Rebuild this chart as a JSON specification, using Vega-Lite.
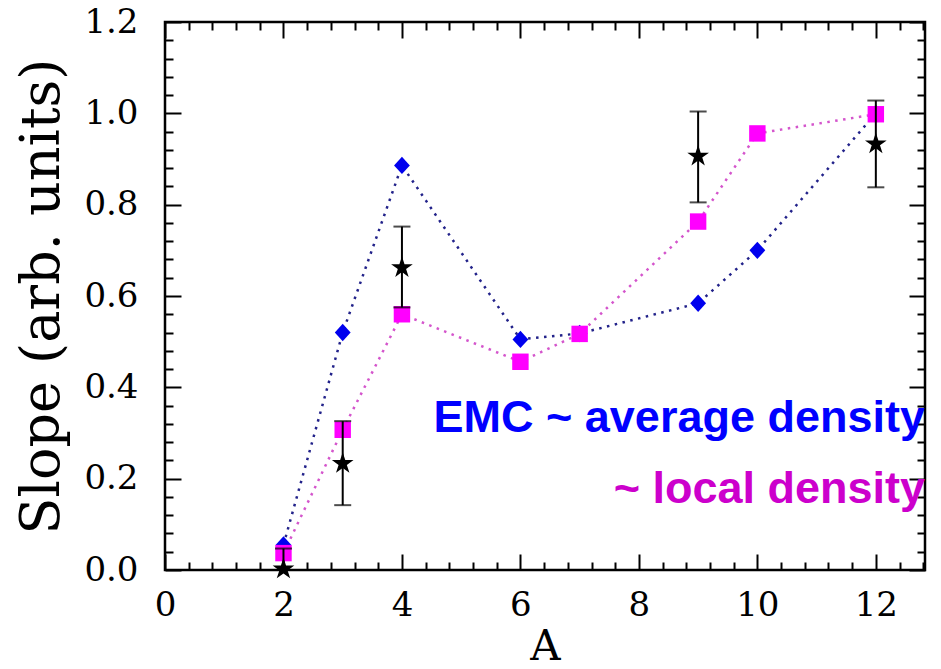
{
  "$schema": "https://vega.github.io/schema/vega-lite/v6.json",
  "width": 760,
  "height": 548,
  "autosize": {"type": "none"},
  "padding": {"left": 165, "top": 22, "right": 16, "bottom": 99},
  "background": "white",
  "config": {
    "view": {"stroke": "black", "strokeWidth": 2.5},
    "axis": {
      "grid": false,
      "domain": false,
      "labelFlush": false,
      "tickColor": "black",
      "tickWidth": 2,
      "labelColor": "black",
      "labelFont": "DejaVu Serif",
      "labelFontSize": 34,
      "titleFont": "DejaVu Serif",
      "titleFontWeight": "normal",
      "titleColor": "black"
    }
  },
  "datasets": {
    "emc": [
      {"A": 2, "slope": 0.055},
      {"A": 3, "slope": 0.52},
      {"A": 4, "slope": 0.886},
      {"A": 6, "slope": 0.505},
      {"A": 7, "slope": 0.518},
      {"A": 9, "slope": 0.584},
      {"A": 10, "slope": 0.7},
      {"A": 12, "slope": 1.0}
    ],
    "local": [
      {"A": 2, "slope": 0.037},
      {"A": 3, "slope": 0.307},
      {"A": 4, "slope": 0.56},
      {"A": 6, "slope": 0.456},
      {"A": 7, "slope": 0.517},
      {"A": 9, "slope": 0.763},
      {"A": 10, "slope": 0.956},
      {"A": 12, "slope": 0.998}
    ],
    "exp": [
      {"A": 2, "slope": 0.002, "lo": 0.0, "hi": 0.047},
      {"A": 3, "slope": 0.233, "lo": 0.142, "hi": 0.326},
      {"A": 4, "slope": 0.662, "lo": 0.575, "hi": 0.752},
      {"A": 9, "slope": 0.906, "lo": 0.805, "hi": 1.004},
      {"A": 12, "slope": 0.933, "lo": 0.838, "hi": 1.028}
    ],
    "labels": [
      {"A": 12.83, "slope": 0.302, "text": "EMC ~ average density", "c": "blue"},
      {"A": 12.83, "slope": 0.146, "text": "~ local density", "c": "magenta"}
    ]
  },
  "layer": [
    {
      "data": {"name": "emc"},
      "mark": {"type": "line", "color": "#22228a", "strokeWidth": 2.5, "strokeDash": [2.5, 5.5]},
      "encoding": {
        "x": {"field": "A", "type": "quantitative", "scale": {"domain": [0, 12.83], "nice": false, "zero": false},
              "axis": {"orient": "bottom", "values": [0, 2, 4, 6, 8, 10, 12], "tickSize": -16, "labelPadding": 34, "title": "A", "titleFontSize": 42, "titlePadding": 4}},
        "y": {"field": "slope", "type": "quantitative", "scale": {"domain": [0, 1.2], "nice": false},
              "axis": {"orient": "left", "values": [0, 0.2, 0.4, 0.6, 0.8, 1.0, 1.2], "format": ".1f", "tickSize": -16, "labelPadding": 43, "title": "Slope (arb. units)", "titleFontSize": 54, "titlePadding": 14}}
      }
    },
    {
      "data": {"name": "local"},
      "mark": {"type": "line", "color": "#d455cc", "strokeWidth": 2.5, "strokeDash": [2.5, 5.5]},
      "encoding": {
        "x": {"field": "A", "type": "quantitative",
              "axis": {"orient": "bottom", "values": [0.4, 0.8, 1.2, 1.6, 2.4, 2.8, 3.2, 3.6, 4.4, 4.8, 5.2, 5.6, 6.4, 6.8, 7.2, 7.6, 8.4, 8.8, 9.2, 9.6, 10.4, 10.8, 11.2, 11.6, 12.4, 12.8], "tickSize": -8, "labels": false, "title": null}},
        "y": {"field": "slope", "type": "quantitative",
              "axis": {"orient": "left", "values": [0.04, 0.08, 0.12, 0.16, 0.24, 0.28, 0.32, 0.36, 0.44, 0.48, 0.52, 0.56, 0.64, 0.68, 0.72, 0.76, 0.84, 0.88, 0.92, 0.96, 1.04, 1.08, 1.12, 1.16], "tickSize": -8, "labels": false, "title": null}}
      }
    },
    {
      "data": {"name": "emc"},
      "mark": {"type": "point", "shape": "M0,-1.1L1,0L0,1.1L-1,0Z", "filled": true, "color": "#0000ee", "size": 250, "opacity": 1},
      "encoding": {
        "x": {"field": "A", "type": "quantitative",
              "axis": {"orient": "top", "values": [0, 2, 4, 6, 8, 10, 12], "tickSize": -16, "labels": false, "title": null}},
        "y": {"field": "slope", "type": "quantitative",
              "axis": {"orient": "right", "values": [0, 0.2, 0.4, 0.6, 0.8, 1.0, 1.2], "tickSize": -16, "labels": false, "title": null}}
      }
    },
    {
      "data": {"name": "local"},
      "mark": {"type": "point", "shape": "square", "filled": true, "color": "#ff00ff", "size": 270, "opacity": 1},
      "encoding": {
        "x": {"field": "A", "type": "quantitative",
              "axis": {"orient": "top", "values": [0.4, 0.8, 1.2, 1.6, 2.4, 2.8, 3.2, 3.6, 4.4, 4.8, 5.2, 5.6, 6.4, 6.8, 7.2, 7.6, 8.4, 8.8, 9.2, 9.6, 10.4, 10.8, 11.2, 11.6, 12.4, 12.8], "tickSize": -8, "labels": false, "title": null}},
        "y": {"field": "slope", "type": "quantitative",
              "axis": {"orient": "right", "values": [0.04, 0.08, 0.12, 0.16, 0.24, 0.28, 0.32, 0.36, 0.44, 0.48, 0.52, 0.56, 0.64, 0.68, 0.72, 0.76, 0.84, 0.88, 0.92, 0.96, 1.04, 1.08, 1.12, 1.16], "tickSize": -8, "labels": false, "title": null}}
      }
    },
    {
      "data": {"name": "exp"},
      "mark": {"type": "rule", "color": "black", "strokeWidth": 2},
      "encoding": {
        "x": {"field": "A", "type": "quantitative", "axis": null},
        "y": {"field": "lo", "type": "quantitative", "axis": null},
        "y2": {"field": "hi"}
      }
    },
    {
      "data": {"name": "exp"},
      "mark": {"type": "tick", "orient": "horizontal", "color": "black", "thickness": 2, "size": 17},
      "encoding": {
        "x": {"field": "A", "type": "quantitative", "axis": null},
        "y": {"field": "hi", "type": "quantitative", "axis": null}
      }
    },
    {
      "data": {"name": "exp"},
      "mark": {"type": "tick", "orient": "horizontal", "color": "black", "thickness": 2, "size": 17},
      "encoding": {
        "x": {"field": "A", "type": "quantitative", "axis": null},
        "y": {"field": "lo", "type": "quantitative", "axis": null}
      }
    },
    {
      "data": {"name": "exp"},
      "mark": {"type": "point", "filled": true, "color": "black", "opacity": 1, "size": 520,
               "shape": "M0,-1L0.2245,-0.309L0.951,-0.309L0.363,0.118L0.588,0.809L0,0.382L-0.588,0.809L-0.363,0.118L-0.951,-0.309L-0.2245,-0.309Z"},
      "encoding": {
        "x": {"field": "A", "type": "quantitative", "axis": null},
        "y": {"field": "slope", "type": "quantitative", "axis": null}
      }
    },
    {
      "data": {"name": "labels"},
      "mark": {"type": "text", "align": "right", "baseline": "alphabetic", "font": "Liberation Sans", "fontWeight": "bold", "fontSize": 45},
      "encoding": {
        "x": {"field": "A", "type": "quantitative", "axis": null},
        "y": {"field": "slope", "type": "quantitative", "axis": null},
        "text": {"field": "text"},
        "color": {"field": "c", "type": "nominal", "scale": {"domain": ["blue", "magenta"], "range": ["#0000ff", "#cc00cc"]}, "legend": null}
      }
    }
  ],
  "resolve": {"axis": {"x": "independent", "y": "independent"}}
}
